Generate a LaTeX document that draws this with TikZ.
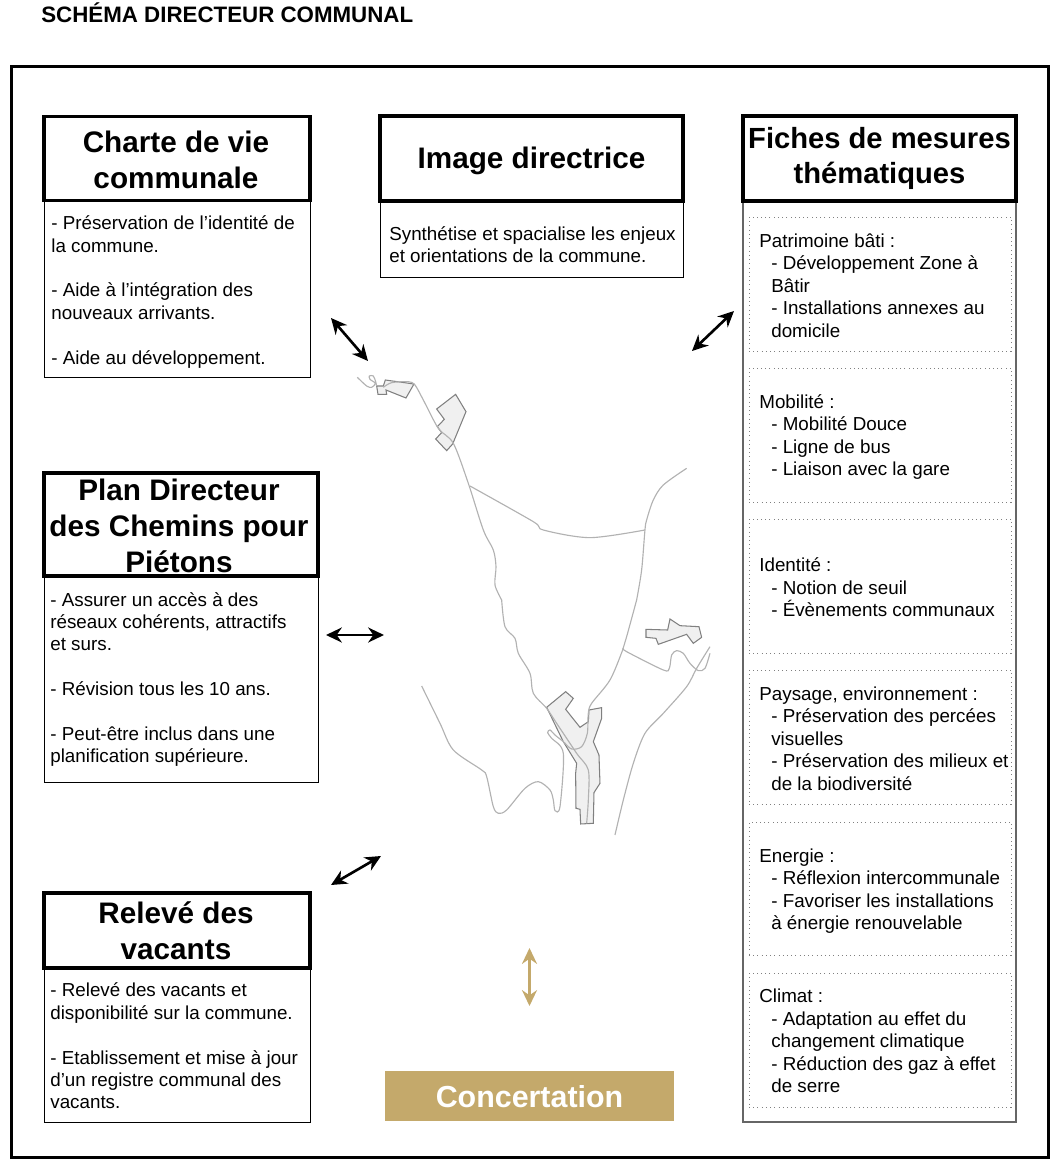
\documentclass[tikz,border=0pt]{standalone}
\usepackage{fontspec}
\setmainfont{Liberation Sans}
\usepackage{xcolor}
\usetikzlibrary{arrows.meta}
\definecolor{gold}{HTML}{C4A96B}
\newcommand{\ind}{\hspace*{6.8pt}}

\begin{document}
\begin{tikzpicture}[x=0.02cm,y=-0.02cm,>={Stealth[length=9pt,width=8.5pt]},
  titlebox/.style={draw,line width=1.9pt,inner sep=0pt},
  titletext/.style={align=center,inner sep=0pt,font=\fontsize{16.9}{20.4}\selectfont\bfseries},
  bodybox/.style={draw,line width=0.5pt,inner sep=0pt},
  bodytext/.style={anchor=west,align=left,inner sep=0pt,font=\fontsize{10.7}{12.75}\selectfont},
  dotbox/.style={draw=black!50,dotted,line width=0.4pt,inner sep=0pt,minimum width=5.24cm},
  biarrow/.style={<->,line width=1.5pt},
  road/.style={draw=black!30,line width=0.65pt},
  village/.style={draw=black!50,fill=black!6,line width=0.6pt}]
\useasboundingbox (0,0) rectangle (1059,1170);
\node[anchor=west,inner sep=0pt,font=\fontsize{12.7}{15}\selectfont\bfseries] (heading) at (41,12.5){SCHÉMA DIRECTEUR COMMUNAL};
\node[draw,line width=1.8pt,inner sep=0pt,minimum width=20.76cm,minimum height=21.84cm] (frame) at (530,612){};

% left column
\node[bodybox,minimum width=5.32cm,minimum height=3.52cm] (chartebody) at (177,289){};
\node[titlebox,minimum width=5.32cm,minimum height=1.68cm] (chartetitle) at (177,158.5){};
\node[titletext] (chartehead) at (176,160){Charte de vie\\communale};
\node[bodytext] (chartetext) at (51,292){- Préservation de l'identité de\\la commune.\\[12.75pt]- Aide à l'intégration des\\nouveaux arrivants.\\[12.75pt]- Aide au développement.};

\node[bodybox,minimum width=5.48cm,minimum height=4.1cm] (planbody) at (181,679.5){};
\node[titlebox,minimum width=5.48cm,minimum height=2.06cm] (plantitle) at (181,524.5){};
\node[titletext] (planhead) at (179,526){Plan Directeur\\des Chemins pour\\Piétons};
\node[bodytext] (plantext) at (50,679.5){- Assurer un accès à des\\réseaux cohérents, attractifs\\et surs.\\[12.75pt]- Révision tous les 10 ans.\\[12.75pt]- Peut-être inclus dans une\\planification supérieure.};

\node[bodybox,minimum width=5.32cm,minimum height=3.06cm] (relevebody) at (177,1045.5){};
\node[titlebox,minimum width=5.32cm,minimum height=1.5cm] (relevetitle) at (177,930.5){};
\node[titletext] (relevehead) at (176,931){Relevé des\\vacants};
\node[bodytext] (relevetext) at (50,1046){- Relevé des vacants et\\disponibilité sur la commune.\\[12.75pt]- Etablissement et mise à jour\\d'un registre communal des\\vacants.};

% middle
\node[bodybox,minimum width=6.06cm,minimum height=1.5cm] (imagebody) at (531.5,239.5){};
\node[titlebox,minimum width=6.06cm,minimum height=1.7cm] (imagetitle) at (531.5,158.5){};
\node[titletext] (imagehead) at (531.5,160.5){Image directrice};
\node[bodytext] (imagetext) at (389,244.5){Synthétise et spacialise les enjeux\\et orientations de la commune.};
\node[fill=gold,inner sep=0pt,minimum width=5.78cm,minimum height=1cm] (concertation) at (529.5,1096){};
\node[text=white,inner sep=0pt,font=\fontsize{17.3}{20}\selectfont\bfseries] (concerthead) at (529.5,1097){Concertation};

% right column
\node[draw=black!60,line width=0.7pt,inner sep=0pt,minimum width=5.46cm,minimum height=18.4cm] (fichesbody) at (879.5,662){};
\node[titlebox,minimum width=5.46cm,minimum height=1.7cm] (fichestitle) at (879.5,158.5){};
\node[titletext,font=\fontsize{16.6}{20.4}\selectfont\bfseries] (ficheshead) at (879.5,158.5){Fiches de mesures\\thématiques};
\node[dotbox,minimum height=2.68cm] (patbox) at (880,284){};
\node[dotbox,minimum height=2.68cm] (mobbox) at (880,435){};
\node[dotbox,minimum height=2.68cm] (idbox) at (880,586){};
\node[dotbox,minimum height=2.68cm] (paybox) at (880,737){};
\node[dotbox,minimum height=2.66cm] (enebox) at (880,888.5){};
\node[dotbox,minimum height=2.68cm] (clibox) at (880,1040){};
\node[bodytext] (pattext) at (759,285.5){Patrimoine bâti :\\\ind - Développement Zone à\\\ind Bâtir\\\ind - Installations annexes au\\\ind domicile};
\node[bodytext] (mobtext) at (759,437){Mobilité :\\\ind - Mobilité Douce\\\ind - Ligne de bus\\\ind - Liaison avec la gare};
\node[bodytext] (idtext) at (759,587.5){Identité :\\\ind - Notion de seuil\\\ind - Évènements communaux};
\node[bodytext] (paytext) at (759,738.5){Paysage, environnement :\\\ind - Préservation des percées\\\ind visuelles\\\ind - Préservation des milieux et\\\ind de la biodiversité};
\node[bodytext] (enetext) at (759,891){Energie :\\\ind - Réflexion intercommunale\\\ind - Favoriser les installations\\\ind à énergie renouvelable};
\node[bodytext] (clitext) at (759,1041){Climat :\\\ind - Adaptation au effet du\\\ind changement climatique\\\ind - Réduction des gaz à effet\\\ind de serre};

% arrows
\coordinate (charteend) at (331,318);
\coordinate (chartemap) at (368,361);
\coordinate (fichesend) at (734,311);
\coordinate (fichesmap) at (692,351);
\coordinate (planend) at (326,635);
\coordinate (planmap) at (384,635);
\coordinate (releveend) at (331,885);
\coordinate (relevemap) at (381,856);
\coordinate (concerttop) at (529.5,948);
\coordinate (concertbot) at (529.5,1006);
\draw[biarrow] (charteend)--(chartemap);
\draw[biarrow] (fichesend)--(fichesmap);
\draw[biarrow] (planend)--(planmap);
\draw[biarrow] (releveend)--(relevemap);
\draw[biarrow,gold] (concerttop)--(concertbot);

% map, north part
\begin{scope}[shift={(320,300)},scale=0.3333]
\draw[village] (196,240)--(282,252)--(258,294)--(198,270)--(200,283)--(174,283)--(170,258)--(190,258)--cycle;
\draw[village] (407,283)--(438,335)--(398,432)--(380,452)--(347,417)--(365,398)--(352,380)--(373,358)--(350,327)--cycle;
\draw[road] plot[smooth] coordinates{(112,232)(140,258)(155,262)(166,250)(150,238)(148,228)(160,228)(167,245)(170,258)};
\draw[road] plot[smooth] coordinates{(190,262)(215,248)(265,245)(285,255)(310,300)(355,385)(400,430)(445,550)(490,690)(520,750)(528,800)(525,855)(545,900)};
\draw[road] plot[smooth] coordinates{(450,558)(640,665)(670,690)(810,713)(975,690)};
\draw[road] plot[smooth] coordinates{(1100,505)(1030,555)(1000,600)(980,660)(975,690)(965,810)(950,900)};
\end{scope}
% map, south part
\begin{scope}[shift={(400,600)},scale=0.3333]
\draw[village] (440,322)--(497,275)--(520,295)--(497,328)--(540,382)--(565,365)--(567,330)--(605,323)--(605,355)--(580,425)--(597,465)--(600,550)--(582,578)--(580,670)--(542,672)--(540,628)--(528,625)--(527,520)--(530,490)--(490,425)--cycle;
\draw[village] (738,88)--(803,90)--(810,57)--(840,77)--(897,80)--(905,112)--(880,130)--(860,103)--(775,133)--(768,115)--(738,112)--cycle;
\draw[road] plot[smooth] coordinates{(305,0)(315,80)(345,115)(355,160)(390,220)(400,280)(440,325)(470,370)(530,460)(565,510)(565,600)(560,670)};
\draw[road] plot[smooth] coordinates{(710,0)(680,110)(668,150)(630,240)(575,310)(565,340)(562,400)(545,440)(515,447)(490,425)(465,405)(450,390)(443,398)(455,415)(490,460)(480,620)(465,632)(460,600)(450,570)(415,545)(375,565)(320,630)(295,640)(280,620)(260,530)(245,510)(160,450)(120,370)(65,258)};
\draw[road] plot[smooth] coordinates{(670,145)(680,155)(790,210)(808,205)(815,165)(830,152)(850,160)(870,190)(895,212)(915,205)(930,160)};
\draw[road] plot[smooth] coordinates{(930,140)(890,205)(860,260)(790,340)(735,400)(700,490)(670,600)(645,705)};
\end{scope}
\end{tikzpicture}
\end{document}
